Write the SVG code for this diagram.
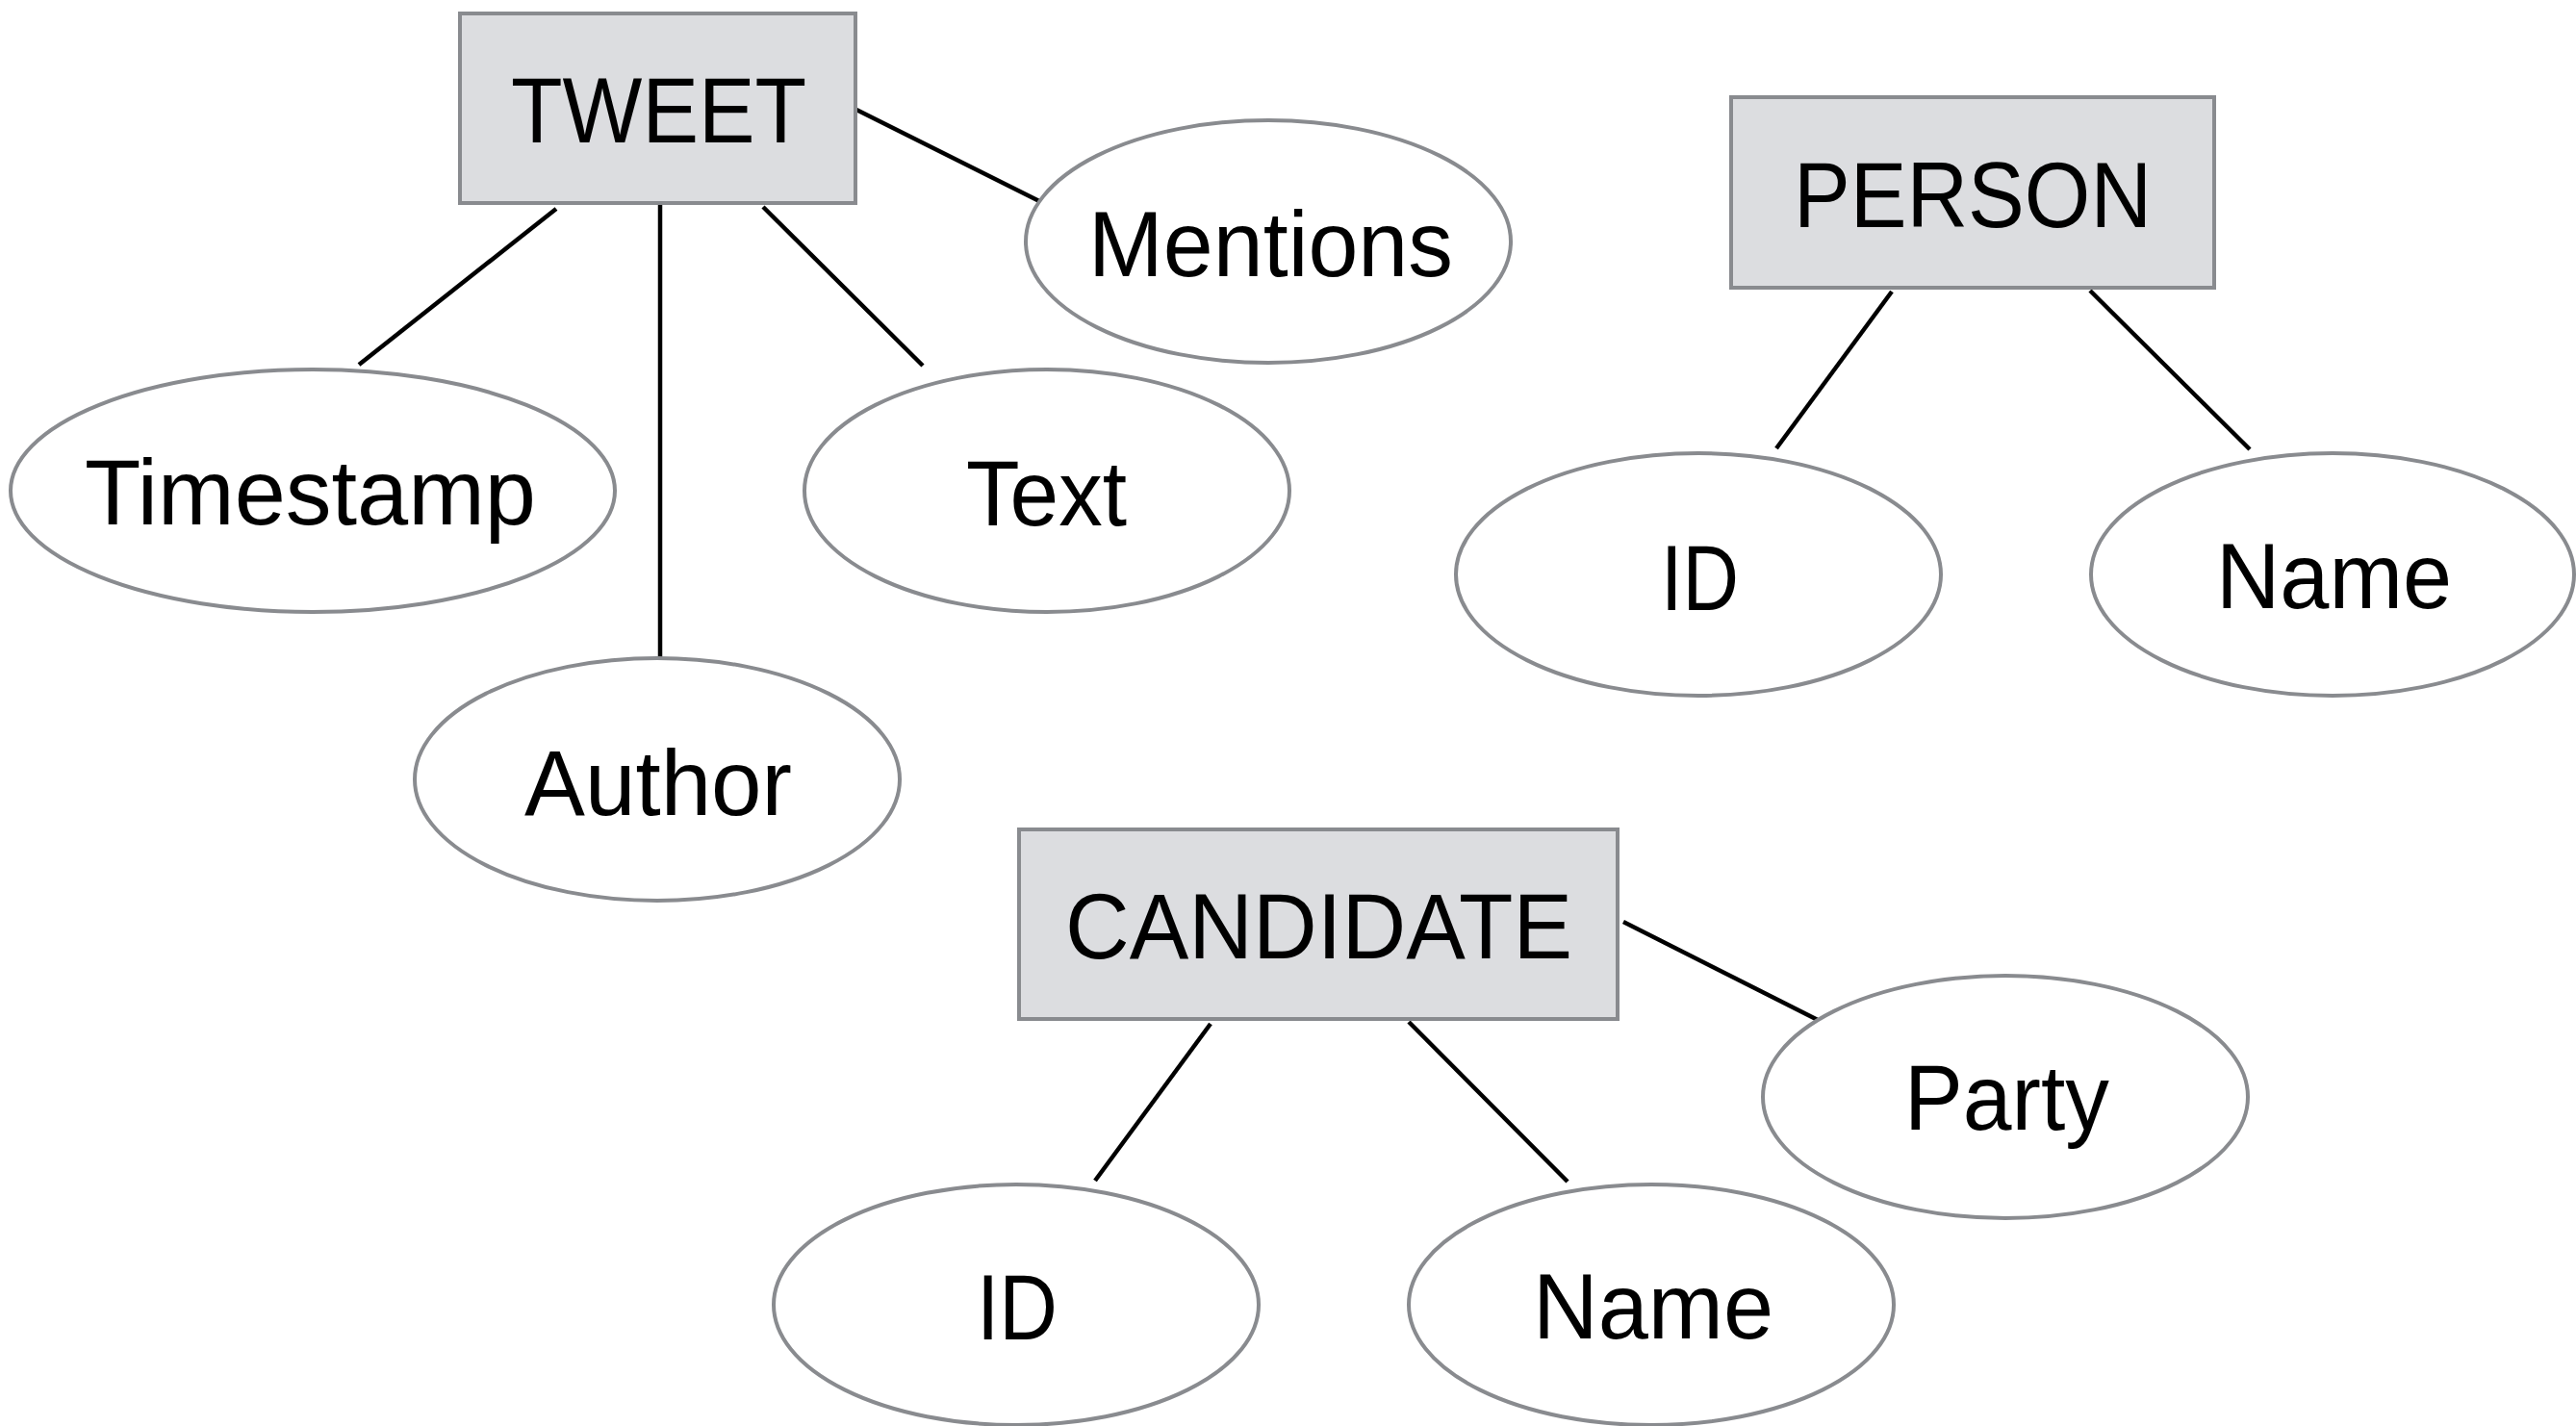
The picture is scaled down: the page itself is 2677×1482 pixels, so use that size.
<svg xmlns="http://www.w3.org/2000/svg" width="2677" height="1482" viewBox="0 0 2677 1482">
<style>
.ent{fill:#dcdde0;stroke:#898b8f;stroke-width:4}
.att{fill:#ffffff;stroke:#898b8f;stroke-width:4}
.lbl{font-family:"Liberation Sans",Arial,Helvetica,sans-serif;font-size:96px;fill:#000;text-anchor:middle}
.conn line{stroke:#000;stroke-width:4.5}
</style>
<rect width="2677" height="1482" fill="#ffffff"/>
<g id="connectors" class="conn">
<line x1="890" y1="114" x2="1080" y2="209"/>
<line x1="578" y1="217" x2="373" y2="379"/>
<line x1="686" y1="213" x2="686" y2="683"/>
<line x1="793" y1="215" x2="959" y2="380"/>
<line x1="1966" y1="303" x2="1846" y2="466"/>
<line x1="2172" y1="302" x2="2338" y2="467"/>
<line x1="1687" y1="958" x2="1889" y2="1060"/>
<line x1="1258" y1="1064" x2="1138" y2="1227"/>
<line x1="1464" y1="1062" x2="1629" y2="1228"/>
</g>
<g id="tweet">
<rect class="ent" x="478" y="14" width="411" height="197"/>
<text class="lbl" x="684.5" y="148" textLength="307" lengthAdjust="spacingAndGlyphs">TWEET</text>
</g>
<g id="person">
<rect class="ent" x="1799" y="101" width="502" height="198"/>
<text class="lbl" x="2050" y="236" textLength="372" lengthAdjust="spacingAndGlyphs">PERSON</text>
</g>
<g id="candidate">
<rect class="ent" x="1059" y="862" width="622" height="197"/>
<text class="lbl" x="1370.5" y="996" textLength="527" lengthAdjust="spacingAndGlyphs">CANDIDATE</text>
</g>
<g id="mentions">
<ellipse class="att" cx="1318" cy="251" rx="252" ry="126"/>
<text class="lbl" x="1320.5" y="287" textLength="379" lengthAdjust="spacingAndGlyphs">Mentions</text>
</g>
<g id="timestamp">
<ellipse class="att" cx="325" cy="510" rx="314" ry="126"/>
<text class="lbl" x="322.5" y="545" textLength="469" lengthAdjust="spacingAndGlyphs">Timestamp</text>
</g>
<g id="text">
<ellipse class="att" cx="1088" cy="510" rx="252" ry="126"/>
<text class="lbl" x="1087.5" y="546" textLength="167" lengthAdjust="spacingAndGlyphs">Text</text>
</g>
<g id="author">
<ellipse class="att" cx="683" cy="810" rx="252" ry="126"/>
<text class="lbl" x="684" y="847" textLength="278" lengthAdjust="spacingAndGlyphs">Author</text>
</g>
<g id="person-id">
<ellipse class="att" cx="1765" cy="597" rx="252" ry="126"/>
<text class="lbl" x="1766.5" y="634" textLength="81" lengthAdjust="spacingAndGlyphs">ID</text>
</g>
<g id="person-name">
<ellipse class="att" cx="2424" cy="597" rx="251" ry="126"/>
<text class="lbl" x="2425.5" y="632" textLength="245" lengthAdjust="spacingAndGlyphs">Name</text>
</g>
<g id="party">
<ellipse class="att" cx="2084" cy="1140" rx="252" ry="126"/>
<text class="lbl" x="2085.5" y="1174" textLength="213" lengthAdjust="spacingAndGlyphs">Party</text>
</g>
<g id="candidate-id">
<ellipse class="att" cx="1056" cy="1356" rx="252" ry="125"/>
<text class="lbl" x="1057" y="1392" textLength="84" lengthAdjust="spacingAndGlyphs">ID</text>
</g>
<g id="candidate-name">
<ellipse class="att" cx="1716" cy="1356" rx="252" ry="125"/>
<text class="lbl" x="1718" y="1391" textLength="250" lengthAdjust="spacingAndGlyphs">Name</text>
</g>
</svg>
